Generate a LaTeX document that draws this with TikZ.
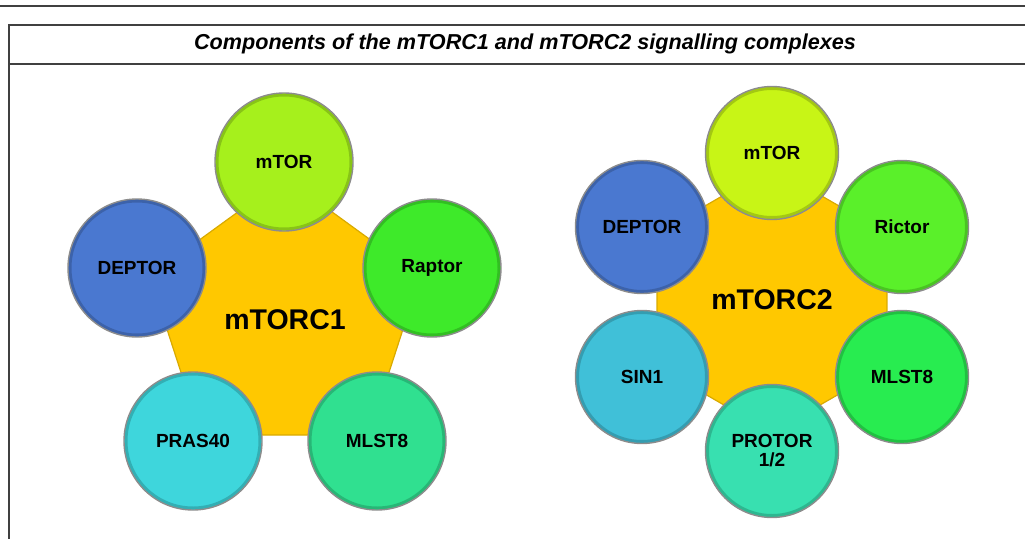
\documentclass[tikz,border=0pt]{standalone}
\usepackage{fontspec}
\setmainfont{Liberation Sans}
\usetikzlibrary{shapes.geometric}
\definecolor{core}{HTML}{FFC800}
\definecolor{limeA}{HTML}{A6F01C}
\definecolor{limeB}{HTML}{C8F516}
\definecolor{deptor}{HTML}{4A78D0}
\definecolor{raptor}{HTML}{3EEA2A}
\definecolor{rictor}{HTML}{5AF02A}
\definecolor{pras}{HTML}{3ED6DC}
\definecolor{sinone}{HTML}{40C0D8}
\definecolor{mlstA}{HTML}{30E090}
\definecolor{mlstB}{HTML}{28EC50}
\definecolor{protor}{HTML}{38E0B0}
\begin{document}
\begin{tikzpicture}[x=1pt,y=-1pt,
  frameline/.style={draw=black!75, line width=1.3pt},
  corepoly/.style={regular polygon, inner sep=0pt, fill=core, draw=core!85!black, line width=1.2pt,
    font=\bfseries\fontsize{28.5}{32}\selectfont},
  bigsub/.style={circle, minimum size=138pt, inner sep=0pt, draw=black!45, line width=1.4pt,
    font=\bfseries\fontsize{19}{21}\selectfont, align=center,
    path picture={\draw[black, opacity=0.18, line width=3pt]
      (path picture bounding box.center) circle[radius=\pgfkeysvalueof{/pgf/minimum width}/2-2pt];}},
  smallsub/.style={bigsub, minimum size=133pt}]
\useasboundingbox (0,0) rectangle (1025,538);
% frame
\draw[frameline] (0,6) -- (1025,6);
\draw[frameline] (1025,25) -- (9,25) -- (9,540);
\draw[frameline] (9,64) -- (1025,64);
\node[font=\bfseries\itshape\fontsize{21.6}{25}\selectfont] (title) at (525,44) {Components of the mTORC1 and mTORC2 signalling complexes};
% mTORC1
\node[corepoly, regular polygon sides=10, minimum size=242pt] (c1) at (285,320) {mTORC1};
\node[bigsub, fill=limeA] (c1mtor) at (284,162) {mTOR};
\node[bigsub, fill=deptor] (c1deptor) at (137,268) {DEPTOR};
\node[bigsub, fill=raptor] (c1raptor) at (432,268) {Raptor};
\node[bigsub, fill=pras] (c1pras) at (193,441) {PRAS40};
\node[bigsub, fill=mlstA] (c1mlst) at (377,441) {MLST8};
% mTORC2
\node[corepoly, regular polygon sides=12, minimum size=238pt] (c2) at (772,300) {mTORC2};
\node[smallsub, fill=limeB] (c2mtor) at (772,153) {mTOR};
\node[smallsub, fill=deptor] (c2deptor) at (642,227) {DEPTOR};
\node[smallsub, fill=rictor] (c2rictor) at (902,227) {Rictor};
\node[smallsub, fill=sinone] (c2sin) at (642,377) {SIN1};
\node[smallsub, fill=mlstB] (c2mlst) at (902,377) {MLST8};
\node[smallsub, fill=protor] (c2protor) at (772,451) {PROTOR\\[-2pt]1/2};
\end{tikzpicture}
\end{document}
